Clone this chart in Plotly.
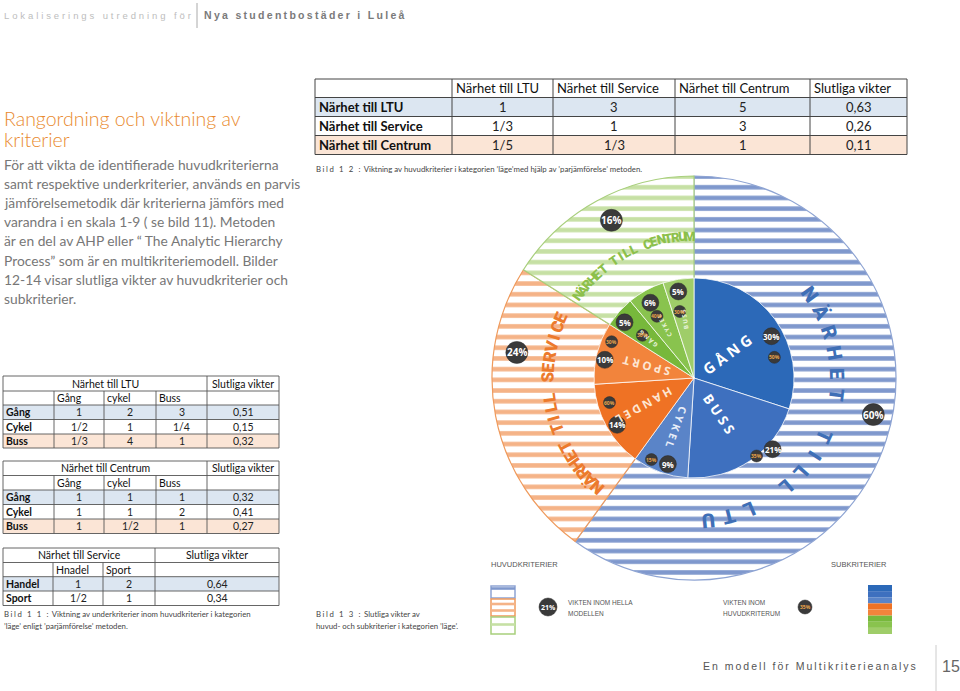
import math
import plotly.graph_objects as go

W, H = 960, 691

# ---------------- data ----------------
main_criteria = ["Närhet till LTU", "Närhet till Service", "Närhet till Centrum"]
main_weights = [60, 24, 16]
main_pct = ["60%", "24%", "16%"]
ring_titles = ["NÄRHET TILL LTU", "NÄRHET TILL SERVICE", "NÄRHET TILL CENTRUM"]

sub_names = ["GÅNG", "BUSS", "CYKEL", "HANDEL", "SPORT", "GÅNG", "CYKEL", "BUSS"]
sub_weights = [30, 21, 9, 14, 10, 5, 6, 5]
sub_pct = ["30%", "21%", "9%", "14%", "10%", "5%", "6%", "5%"]
sub_within = ["50%", "35%", "15%", "60%", "30%", "30%", "40%", "30%"]

t1_header = ["", "Närhet till LTU", "Närhet till Service", "Närhet till Centrum", "Slutliga vikter"]
t1_rows = [["Närhet till LTU", "1", "3", "5", "0,63"],
           ["Närhet till Service", "1/3", "1", "3", "0,26"],
           ["Närhet till Centrum", "1/5", "1/3", "1", "0,11"]]

t2_title = "Närhet till LTU"
t2_sub = ["", "Gång", "cykel", "Buss", ""]
t2_rows = [["Gång", "1", "2", "3", "0,51"],
           ["Cykel", "1/2", "1", "1/4", "0,15"],
           ["Buss", "1/3", "4", "1", "0,32"]]

t3_title = "Närhet till Centrum"
t3_sub = ["", "Gång", "cykel", "Buss", ""]
t3_rows = [["Gång", "1", "1", "1", "0,32"],
           ["Cykel", "1", "1", "2", "0,41"],
           ["Buss", "1", "1/2", "1", "0,27"]]

t4_title = "Närhet till Service"
t4_sub = ["", "Hnadel", "Sport", ""]
t4_rows = [["Handel", "1", "2", "0,64"],
           ["Sport", "1/2", "1", "0,34"]]

# ---------------- style ----------------
FONT = "Lato"
ROW_FILLS = ["#dce6f1", "#ffffff", "#fbe5d6"]
ring_stripe = ["#7f98cd", "#f5b387", "#c6e0a4"]
ring_line = ["#8ea4d3", "#ef9a5c", "#a8cf7c"]
ring_text = ["#3f6fb6", "#ec7a2c", "#8cc04b"]
sub_colors = ["#2c69b8", "#3e70bf", "#5a84c8", "#ef7224", "#f2843c", "#77b83b", "#89c34e", "#9fcd69"]
sub_text_col = ["#ffffff", "#ffffff", "#e8eef8", "#fde6d3", "#fde6d3", "#e9f4dc", "#e9f4dc", "#e9f4dc"]

CX, CY, R_OUT, R_IN = 694, 378, 202, 100

fig = go.Figure()
fig.add_trace(go.Scatter(x=[0, W], y=[0, H], mode="markers", marker=dict(opacity=0),
                         hoverinfo="skip", showlegend=False))

def dom(r):
    return dict(x=[(CX - r) / W, (CX + r) / W], y=[1 - (CY + r) / H, 1 - (CY - r) / H])

fig.add_trace(go.Pie(values=main_weights, labels=main_criteria, sort=False, direction="clockwise",
                     rotation=0, domain=dom(R_OUT), textinfo="none", hoverinfo="skip", showlegend=False,
                     marker=dict(colors=ring_stripe,
                                 pattern=dict(shape="-", bgcolor="white", size=10.7, solidity=0.42),
                                 line=dict(color=ring_line, width=1.2))))
fig.add_trace(go.Pie(values=sub_weights, labels=[f"{n}{i}" for i, n in enumerate(sub_names)], sort=False,
                     direction="clockwise", rotation=0, domain=dom(R_IN), textinfo="none",
                     hoverinfo="skip", showlegend=False,
                     marker=dict(colors=sub_colors, line=dict(color="rgba(255,255,255,0.75)", width=1))))

shapes = []
ann = []

def txt(x, y, s, size, color, xa="left", ya="middle", family=FONT, angle=0, bold=False, weight=None):
    w = weight if weight is not None else ("bold" if bold else "normal")
    ann.append(dict(x=x, y=y, xref="x", yref="y", text=s, showarrow=False, xanchor=xa, yanchor=ya,
                    textangle=angle, borderpad=0,
                    font=dict(size=size, color=color, family=family, weight=w)))

def line(x0, y0, x1, y1, color="#555", width=0.8):
    shapes.append(dict(type="line", xref="x", yref="y", x0=x0, y0=y0, x1=x1, y1=y1,
                       line=dict(color=color, width=width), layer="above"))

def rect(x0, y0, x1, y1, fill, lc="rgba(0,0,0,0)", lw=0):
    shapes.append(dict(type="rect", xref="x", yref="y", x0=x0, y0=y0, x1=x1, y1=y1,
                       fillcolor=fill, line=dict(color=lc, width=lw), layer="above"))

def circ(x, y, r, fill="#3a3a3a"):
    shapes.append(dict(type="circle", xref="x", yref="y", x0=x - r, y0=y - r, x1=x + r, y1=y + r,
                       fillcolor=fill, line=dict(color="#2a2a2a", width=0.5), layer="above"))

def pol(theta, r):
    t = math.radians(theta)
    return CX + r * math.sin(t), CY - r * math.cos(t)

def norm(a):
    return ((a + 180) % 360) - 180

def ls(s, px):
    return f'<span style="letter-spacing:{px}px">{s}</span>'

# ---------- angles ----------
tot = sum(main_weights)
main_start, acc = [], 0
for v in main_weights:
    main_start.append(acc / tot * 360); acc += v
main_span = [v / tot * 360 for v in main_weights]
stot = sum(sub_weights)
sub_start, acc = [], 0
for v in sub_weights:
    sub_start.append(acc / stot * 360); acc += v
sub_span = [v / stot * 360 for v in sub_weights]

# ---------- ring titles (letters along arc) ----------
ring_text_style = [  # (fraction of slice where text starts, degrees per char, radius, size)
    (0.25, 8.6, 143, 20),
    (0.065, 4.05, 146, 17),
    (0.05, 2.95, 142, 13),
]
for i, title in enumerate(ring_titles):
    f0, step, rr, fs = ring_text_style[i]
    a0 = main_start[i] + f0 * main_span[i]
    for k, ch in enumerate(title):
        if ch == " ":
            continue
        a = a0 + k * step
        x, y = pol(a, rr)
        txt(x, y, ch, fs, ring_text[i], xa="center", angle=norm(a), weight=900, family="Roboto")

# ---------- ring badges ----------
ring_badge = [(0.47, 183), (0.72, 179), (0.52, 178)]
for i, p in enumerate(main_pct):
    f, rr = ring_badge[i]
    x, y = pol(main_start[i] + f * main_span[i], rr)
    circ(x, y, 11)
    txt(x, y, p, 10, "white", xa="center", bold=True, family="Open Sans")

# ---------- inner slice names (radial) ----------
sub_text_style = [(41, 15), (44, 13.5), (52, 10.5), (57, 11.5), (49, 11.5), (60, 6), (60, 6), (60, 6)]
for i, name in enumerate(sub_names):
    rr, fs = sub_text_style[i]
    a = sub_start[i] + sub_span[i] / 2
    x, y = pol(a, rr)
    txt(x, y, " ".join(name), fs, sub_text_col[i], xa="center", angle=norm(a - 90), bold=True,
        family="Open Sans")

# ---------- inner badges ----------
sub_badge = [(0.571, 88, 0.70, 83), (0.32, 106, 0.44, 100), (0.41, 90, 0.74, 92), (0.45, 90, 0.75, 88),
             (0.42, 91, 0.76, 90), (0.35, 89, 0.40, 67), (0.44, 87, 0.40, 72), (0.43, 88, 0.33, 68)]
for i in range(len(sub_names)):
    fb, rb, fsm, rsm = sub_badge[i]
    x, y = pol(sub_start[i] + fsm * sub_span[i], rsm)
    circ(x, y, 6)
    txt(x, y, sub_within[i], 5, "#e9a54b", xa="center", bold=True, family="Open Sans")
    x, y = pol(sub_start[i] + fb * sub_span[i], rb)
    circ(x, y, 8.5)
    txt(x, y, sub_pct[i], 8, "white", xa="center", bold=True, family="Open Sans")

# ---------- header / footer ----------
txt(3, 15, ls("Lokaliserings utredning för", 2.9), 9.5, "#bdbdbd", family="Liberation Sans")
line(197, 3, 197, 28, "#aaaaaa", 1)
txt(203, 15, ls("Nya studentbostäder i Luleå", 2.3), 10.5, "#7a7a7a", family="Liberation Sans", bold=True)
txt(702, 666, ls("En modell för Multikriterieanalys", 2.0), 10.5, "#555555", family="Liberation Sans")
line(936, 645, 936, 691, "#cccccc", 1)
txt(941, 666, "15", 16, "#666666", family="Liberation Sans")

# ---------- left text ----------
txt(3, 118, "Rangordning och viktning av", 19.5, "#e98a2e", family=FONT, weight=300)
txt(3, 139, "kriterier", 19.5, "#e98a2e", family=FONT, weight=300)
para = ["För att vikta de identifierade huvudkriterierna",
        "samt respektive underkriterier, används en parvis",
        "jämförelsemetodik där kriterierna jämförs med",
        "varandra i en skala 1-9 ( se bild 11). Metoden",
        "är en del av AHP eller “ The Analytic Hierarchy",
        "Process” som är en multikriteriemodell. Bilder",
        "12-14 visar slutliga vikter av huvudkriterier och",
        "subkriterier."]
for k, s in enumerate(para):
    txt(3, 164 + k * 19.2, s, 13.8, "#777777", family=FONT)

# ---------- table 1 ----------
c1 = [315, 452, 553, 675, 810, 907]
r1 = [79, 97.5, 116.5, 135.5, 154.5]
for j, row in enumerate(t1_rows):
    rect(c1[0], r1[j + 1], c1[-1], r1[j + 2], ROW_FILLS[j])
for y in r1:
    line(c1[0], y, c1[-1], y, "#444", 1)
for x in c1:
    line(x, r1[0], x, r1[-1], "#444", 1)
for k, s in enumerate(t1_header):
    txt(c1[k] + 3, (r1[0] + r1[1]) / 2, s, 13, "#111", family=FONT)
for j, row in enumerate(t1_rows):
    ym = (r1[j + 1] + r1[j + 2]) / 2
    for k, s in enumerate(row):
        if k == 0:
            txt(c1[0] + 3, ym, s, 13, "#111", family=FONT, bold=True)
        else:
            txt((c1[k] + c1[k + 1]) / 2, ym, s, 13, "#222", xa="center", family=FONT)
txt(315, 169, ls("Bild 1 2 :", 1.6) + " Viktning av huvudkriterier i kategorien ’läge’med hjälp av ’parjämförelse’ metoden.",
    7.8, "#444", family=FONT)

# ---------- small tables ----------
def small_table(cols, rows, title, sub, data, fs=10.5):
    nd = len(data)
    for j in range(nd):
        rect(cols[0], rows[j + 2], cols[-1], rows[j + 3], ROW_FILLS[j])
    for y in rows:
        line(cols[0], y, cols[-1], y, "#555", 0.9)
    line(cols[0], rows[0], cols[0], rows[-1], "#555", 0.9)
    line(cols[-1], rows[0], cols[-1], rows[-1], "#555", 0.9)
    line(cols[-2], rows[0], cols[-2], rows[-1], "#555", 0.9)
    for x in cols[1:-2]:
        line(x, rows[1], x, rows[-1], "#555", 0.9)
    txt((cols[0] + cols[-2]) / 2, (rows[0] + rows[1]) / 2, title, fs, "#111", xa="center", family=FONT)
    txt((cols[-2] + cols[-1]) / 2, (rows[0] + rows[1]) / 2, "Slutliga vikter", fs, "#111", xa="center",
        family=FONT)
    for k, s in enumerate(sub):
        if s:
            txt(cols[k] + 2, (rows[1] + rows[2]) / 2, s, fs, "#111", family=FONT)
    for j, row in enumerate(data):
        ym = (rows[j + 2] + rows[j + 3]) / 2
        for k, s in enumerate(row):
            if k == 0:
                txt(cols[0] + 2, ym, s, fs, "#111", family=FONT, bold=True)
            else:
                txt((cols[k] + cols[k + 1]) / 2, ym, s, fs, "#222", xa="center", family=FONT)

small_table([3, 54, 104, 156, 207, 279], [376, 391, 405, 419.5, 434, 448], t2_title, t2_sub, t2_rows)
small_table([3, 54, 104, 156, 207, 279], [461, 475.5, 490, 504.5, 519, 533.5], t3_title, t3_sub, t3_rows)
small_table([3, 53, 103, 155, 279], [548, 562.5, 576.7, 591, 605.5], t4_title, t4_sub, t4_rows)

txt(3, 614, ls("Bild 1 1 :", 1.6) + " Viktning av underkriterier inom huvudkriterier i kategorien", 7.8, "#444",
    family=FONT)
txt(3, 626, "’läge’ enligt ’parjämförelse’ metoden.", 7.8, "#444", family=FONT)
txt(315, 614, ls("Bild 1 3 :", 1.6) + " Slutliga vikter av", 7.8, "#444", family=FONT)
txt(315, 626, "huvud- och subkriterier i kategorien ’läge’.", 7.8, "#444", family=FONT)

# ---------- legend ----------
txt(490, 564, "HUVUDKRITERIER", 7.5, "#555", family="Liberation Sans")
txt(888, 564, "SUBKRITERIER", 7.5, "#555", xa="right", family="Liberation Sans")
sw = [(586, 598, [588.5]), (599, 616, [604, 610.5]), (617, 634, [624.5])]
for i, (y0, y1, st) in enumerate(sw):
    rect(491, y0, 515, y1, "white", ring_line[i], 1.5)
    for ys in st:
        rect(491, ys - 1.3, 515, ys + 1.3, ring_stripe[i])
circ(548, 607, 9)
txt(548, 607, "21%", 7, "white", xa="center", bold=True, family="Open Sans")
txt(567, 602, "VIKTEN INOM HELLA", 6.5, "#555", family="Liberation Sans")
txt(567, 613, "MODELLEN", 6.5, "#555", family="Liberation Sans")
txt(722, 602, "VIKTEN INOM", 6.5, "#555", family="Liberation Sans")
txt(722, 613, "HUVUDKRITERUM", 6.5, "#555", family="Liberation Sans")
circ(805, 607, 7)
txt(805, 607, "35%", 5, "#e9a54b", xa="center", bold=True, family="Open Sans")
bh = (634 - 585) / len(sub_colors)
for i, c in enumerate(sub_colors):
    rect(868, 585 + i * bh, 892, 585 + (i + 1) * bh, c)

fig.update_layout(
    width=W, height=H, margin=dict(l=0, r=0, t=0, b=0),
    paper_bgcolor="white", plot_bgcolor="white", showlegend=False,
    xaxis=dict(range=[0, W], visible=False, fixedrange=True, domain=[0, 1]),
    yaxis=dict(range=[H, 0], visible=False, fixedrange=True, domain=[0, 1]),
    shapes=shapes, annotations=ann,
)
fig.write_html("out.html", config={"displayModeBar": False},
               post_script="document.body.style.margin='0';document.body.style.overflow='hidden';")
